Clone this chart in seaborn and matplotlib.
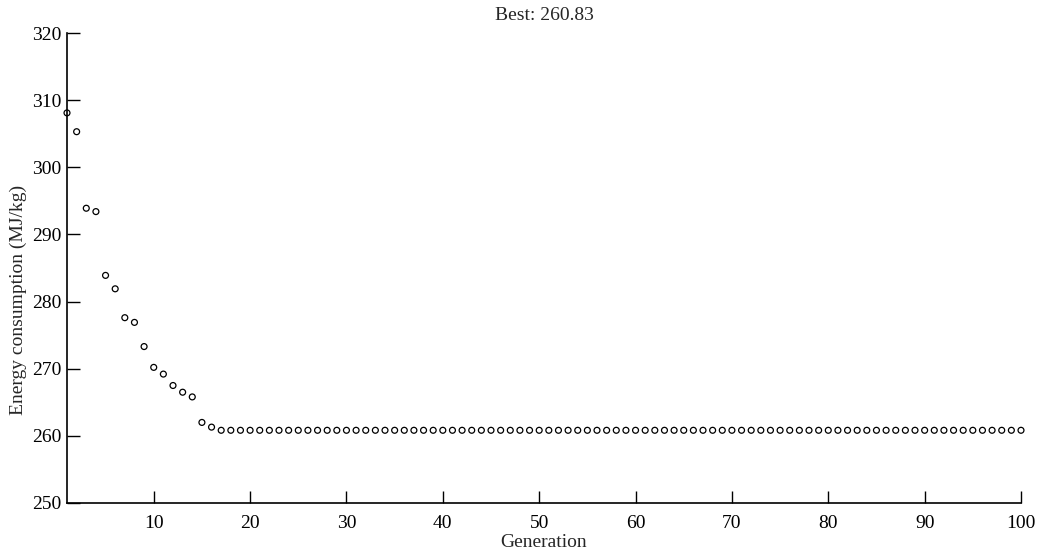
import matplotlib
matplotlib.use("Agg")
import matplotlib.pyplot as plt
import seaborn as sns
import pandas as pd

generations = list(range(1, 101))
early_values = [308.1, 305.3, 293.9, 293.4, 283.9, 281.9, 277.6, 276.9, 273.3, 270.2,
                269.2, 267.5, 266.5, 265.8, 262.0, 261.3]
plateau_value = 260.83
energy = early_values + [plateau_value] * (len(generations) - len(early_values))
best_label = "Best: 260.83"
x_ticks = [10, 20, 30, 40, 50, 60, 70, 80, 90, 100]
y_ticks = [250, 260, 270, 280, 290, 300, 310, 320]

df = pd.DataFrame({"Generation": generations, "Energy": energy})

sns.set_theme(style="ticks")
plt.rcParams['font.family'] = ['Liberation Serif', 'DejaVu Serif']

fig = plt.figure(figsize=(10.4, 5.53), dpi=100)
ax = fig.add_axes([67/1040, 1 - 503/553, (1021 - 67)/1040, (503 - 33)/553])

sns.scatterplot(data=df, x="Generation", y="Energy", ax=ax, marker="o",
                s=18, facecolors="none", edgecolor="black", linewidth=0.9,
                clip_on=False, legend=False, zorder=3)

ax.set_xlim(1, 100)
ax.set_ylim(250, 320)
ax.set_xticks(x_ticks)
ax.set_yticks(y_ticks)
ax.tick_params(direction="in", length=9, width=1.0, colors="black",
               labelsize=14)
ax.tick_params(axis="x", pad=9)
ax.tick_params(axis="y", pad=4)
sns.despine(ax=ax)
for sp in ["left", "bottom"]:
    ax.spines[sp].set_linewidth(1.2)
    ax.spines[sp].set_color("black")

ax.set_xlabel("Generation", fontsize=14, labelpad=1)
ax.set_ylabel("Energy consumption (MJ/kg)", fontsize=14)
ax.yaxis.set_label_coords(-0.042, 0.432)
ax.set_title(best_label, fontsize=14, pad=9)

fig.savefig("out.png", dpi=100)
